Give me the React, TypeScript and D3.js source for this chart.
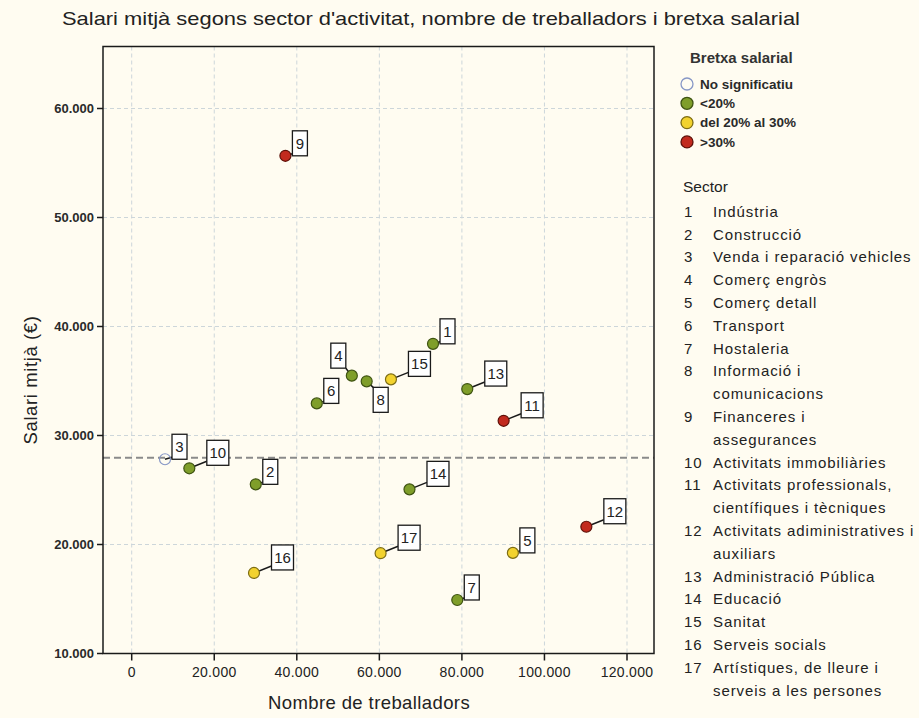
import React from 'react';
import * as d3 from 'd3';

// ---- Data ----
const sectorIds = [1, 2, 3, 4, 5, 6, 7, 8, 9, 10, 11, 12, 13, 14, 15, 16, 17];
const workers = [73000, 30060, 8070, 53330, 92350, 44840, 78880, 56930, 37240, 13960, 90110, 110150, 81300, 67300, 62810, 29630, 60300];
const salaries = [38410, 25520, 27820, 35490, 19230, 32945, 14910, 34970, 55660, 26990, 31350, 21630, 34260, 25060, 35150, 17390, 19200];
const gapCategory = ['<20%', '<20%', 'No significatiu', '<20%', 'del 20% al 30%', '<20%', '<20%', '<20%', '>30%', '<20%', '>30%', '>30%', '<20%', '<20%', 'del 20% al 30%', 'del 20% al 30%', 'del 20% al 30%'];
const labelPlacement = ['near', 'near', 'near', 'nw', 'near', 'near', 'near', 'se', 'near', 'far', 'far', 'far', 'far', 'far', 'far', 'far', 'far'];
const referenceSalary = 27950;

const gapCategories = ['No significatiu', '<20%', 'del 20% al 30%', '>30%'];
const gapFills = ['none', '#7f9e2a', '#f2d22e', '#c22a1e'];
const gapStrokes = ['#8797c6', '#3f5412', '#7d6d14', '#5e1008'];

const xTicks = [0, 20000, 40000, 60000, 80000, 100000, 120000];
const yTicks = [10000, 20000, 30000, 40000, 50000, 60000];

const sectorLegend: string[][] = [
  ['Indústria'],
  ['Construcció'],
  ['Venda i reparació vehicles'],
  ['Comerç engròs'],
  ['Comerç detall'],
  ['Transport'],
  ['Hostaleria'],
  ['Informació i', 'comunicacions'],
  ['Financeres i', 'assegurances'],
  ['Activitats immobiliàries'],
  ['Activitats professionals,', 'científiques i tècniques'],
  ['Activitats adiministratives i', 'auxiliars'],
  ['Administració Pública'],
  ['Educació'],
  ['Sanitat'],
  ['Serveis socials'],
  ['Artístiques, de lleure i', 'serveis a les persones'],
];

const title = "Salari mitjà segons sector d'activitat, nombre de treballadors i bretxa salarial";
const xTitle = 'Nombre de treballadors';
const yTitle = 'Salari mitjà (€)';

const FONT = '"Liberation Sans", Arial, sans-serif';
const BG = '#fffcf1';

const fmt = (v: number) => d3.format(',')(v).replace(/,/g, '.');

export default function App() {
  const W = 919, H = 718;
  const left = 103, right = 654, top = 46.5, bottom = 653.5;
  const x = d3.scaleLinear().domain([0, 120000]).range([131.7, 627]);
  const y = d3.scaleLinear().domain([10000, 60000]).range([bottom, 108.5]);

  const boxH = 25;
  const labels = sectorIds.map((id, i) => {
    const px = x(workers[i]);
    const py = y(salaries[i]);
    const bw = String(id).length > 1 ? 22 : 15;
    const p = labelPlacement[i];
    let bx = 0, by = 0, lx = 0, ly = 0;
    if (p === 'near') { bx = px + 7; by = py - boxH; lx = bx; ly = py - 2; }
    else if (p === 'far') { bx = px + 17.5; by = py - 3 - boxH; lx = bx; ly = py - 7; }
    else if (p === 'nw') { bx = px - 6 - bw; by = py - 7.5 - boxH; lx = px - 6; ly = py - 7.5; }
    else { bx = px + 6.5; by = py + 6; lx = bx; ly = by; }
    return { id, i, px, py, bw, bx, by, lx, ly };
  });

  const legX = 687;
  const sectorTop = 211.5;
  const lineStep = 22.8;
  let line = 0;
  const sectorRows = sectorLegend.map((lines, i) => {
    const row = { num: sectorIds[i], lines, start: line };
    line += lines.length;
    return row;
  });

  return (
    <svg width={W} height={H} style={{ position: 'absolute', left: 0, top: 0 }} fontFamily={FONT}>
      <rect x={0} y={0} width={W} height={H} fill={BG} />
      <text x={431} y={25} fontSize={19} fill="#222" textAnchor="middle" textLength={738} lengthAdjust="spacingAndGlyphs">{title}</text>

      {/* grid */}
      {xTicks.map(t => (
        <line key={'gx' + t} x1={x(t)} x2={x(t)} y1={top} y2={bottom} stroke="#cdd6da" strokeWidth={1} strokeDasharray="4,3" />
      ))}
      {yTicks.filter(t => t > 10000).map(t => (
        <line key={'gy' + t} x1={left} x2={right} y1={y(t)} y2={y(t)} stroke="#cdd6da" strokeWidth={1} strokeDasharray="4,3" />
      ))}
      {/* reference line */}
      <line x1={left} x2={right} y1={y(referenceSalary)} y2={y(referenceSalary)} stroke="#8a8a8a" strokeWidth={2} strokeDasharray="7,4" />

      {/* frame */}
      <rect x={left} y={top} width={right - left} height={bottom - top} fill="none" stroke="#1a1a1a" strokeWidth={1.5} />

      {/* y axis */}
      {yTicks.map(t => (
        <g key={'yt' + t}>
          <line x1={left - 6} x2={left} y1={y(t)} y2={y(t)} stroke="#1a1a1a" strokeWidth={1.5} />
          <text x={left - 9} y={y(t)} dy="0.35em" textAnchor="end" fontSize={13} fontWeight="bold" fill="#2a2a2a">{fmt(t)}</text>
        </g>
      ))}
      {/* x axis */}
      {xTicks.map(t => (
        <g key={'xt' + t}>
          <line x1={x(t)} x2={x(t)} y1={bottom} y2={bottom + 7} stroke="#1a1a1a" strokeWidth={1.5} />
          <text x={x(t)} y={bottom + 23} textAnchor="middle" fontSize={14} letterSpacing={0.3} fill="#222">{fmt(t)}</text>
        </g>
      ))}
      <text x={369} y={709} textAnchor="middle" fontSize={18.5} letterSpacing={0.4} fill="#222">{xTitle}</text>
      <text transform={`translate(37,380) rotate(-90)`} textAnchor="middle" fontSize={18.5} letterSpacing={0.6} fill="#222">{yTitle}</text>

      {/* leaders */}
      {labels.map(l => (
        <line key={'ld' + l.id} x1={l.px} y1={l.py} x2={l.lx} y2={l.ly} stroke="#1a1a1a" strokeWidth={1.5} />
      ))}
      {/* points */}
      {labels.map(l => {
        const c = gapCategories.indexOf(gapCategory[l.i]);
        return (
          <circle key={'pt' + l.id} cx={l.px} cy={l.py} r={5.5} fill={gapFills[c]} stroke={gapStrokes[c]} strokeWidth={1.2} />
        );
      })}
      {/* boxes */}
      {labels.map(l => (
        <g key={'bx' + l.id}>
          <rect x={l.bx} y={l.by} width={l.bw} height={boxH} fill="#ffffff" stroke="#1a1a1a" strokeWidth={1.3} />
          <text x={l.bx + l.bw / 2} y={l.by + boxH / 2} dy="0.36em" textAnchor="middle" fontSize={15} fill="#222">{l.id}</text>
        </g>
      ))}

      {/* gap legend */}
      <text x={690} y={63} fontSize={15} fontWeight="bold" fill="#333">Bretxa salarial</text>
      {gapCategories.map((g, i) => (
        <g key={'lg' + g}>
          <circle cx={legX} cy={84 + i * 19.3} r={6} fill={gapFills[i]} stroke={gapStrokes[i]} strokeWidth={1.3} />
          <text x={700} y={84 + i * 19.3} dy="0.35em" fontSize={13.5} fontWeight="bold" fill="#2a2a2a">{g}</text>
        </g>
      ))}

      {/* sector legend */}
      <text x={683} y={192} fontSize={15.5} fill="#222">Sector</text>
      {sectorRows.map(r => (
        <g key={'sr' + r.num}>
          <text x={684} y={sectorTop + r.start * lineStep} dy="0.35em" fontSize={15} letterSpacing={0.9} fill="#222">{r.num}</text>
          {r.lines.map((t, k) => (
            <text key={k} x={713} y={sectorTop + (r.start + k) * lineStep} dy="0.35em" fontSize={15} letterSpacing={0.9} fill="#222">{t}</text>
          ))}
        </g>
      ))}
    </svg>
  );
}
